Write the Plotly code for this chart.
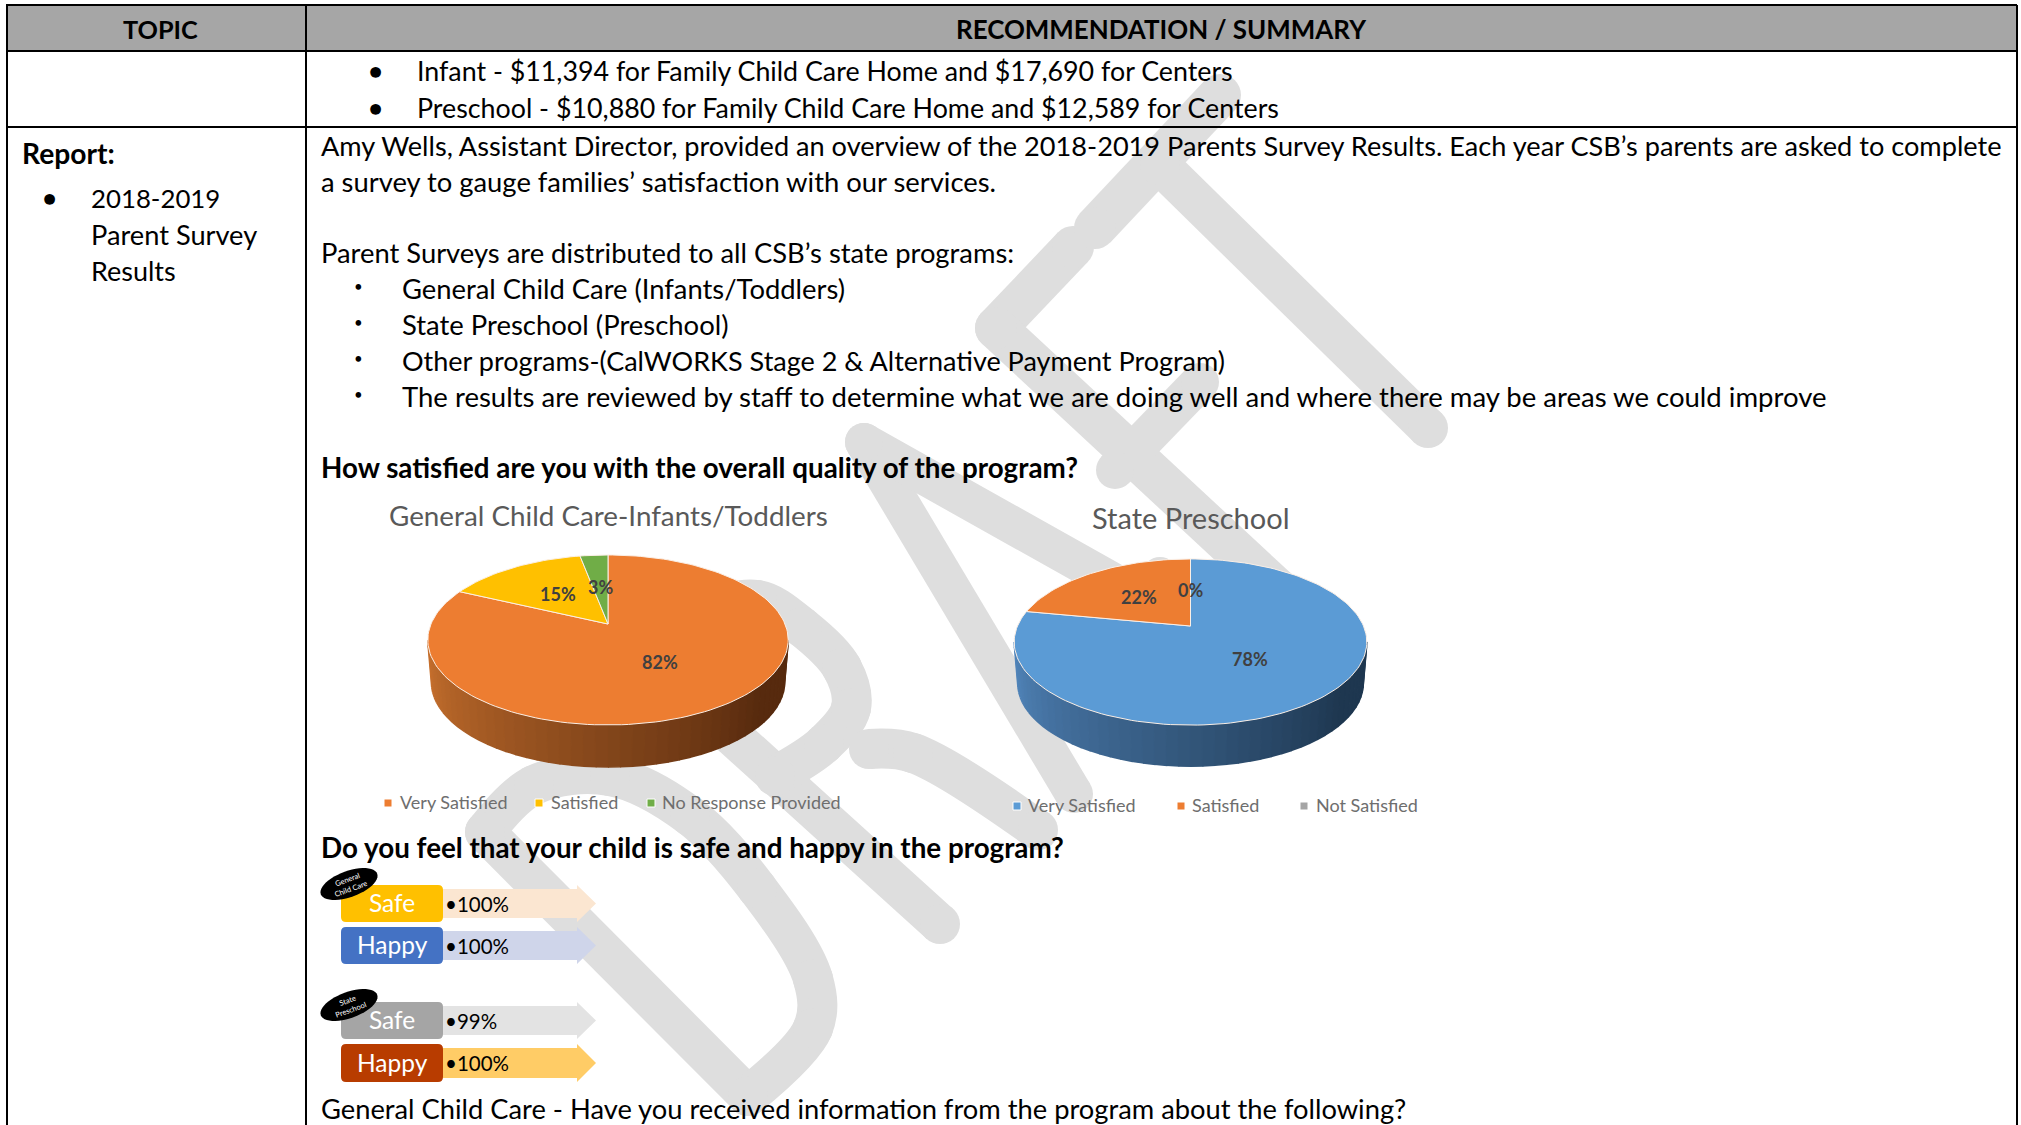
import math
import plotly.graph_objects as go

# ---------- data ----------
pie1_title = "General Child Care-Infants/Toddlers"
pie1_labels = ["Very Satisfied", "Satisfied", "No Response Provided"]
pie1_values = [82, 15, 3]
pie1_colors = ["#ED7D31", "#FFC000", "#70AD47"]

pie2_title = "State Preschool"
pie2_labels = ["Very Satisfied", "Satisfied", "Not Satisfied"]
pie2_values = [78, 22, 0]
pie2_colors = ["#5B9BD5", "#ED7D31", "#A5A5A5"]

metric_labels = ["Safe", "Happy", "Safe", "Happy"]
metric_values = ["•100%", "•100%", "•99%", "•100%"]
metric_box_colors = ["#FFC000", "#4472C4", "#A5A5A5", "#B83C00"]
metric_arrow_colors = ["#FBE6D1", "#CFD5EA", "#E3E3E3", "#FFCC66"]

FONT = "Lato"
BODY = 26.6

fig = go.Figure()
shapes = []
notes = []


def text(x, y, s, size=BODY, color="#000000", bold=False, anchor="left", angle=0):
    notes.append(dict(x=x, y=y - 1, text=s, showarrow=False, xanchor=anchor, yanchor="middle",
                      textangle=angle, xref="x", yref="y",
                      font=dict(family=FONT, size=size, color=color, weight=700 if bold else 400)))


# ---------- watermark strokes ----------
WM = "#DEDEDE"


def stroke(pts, w=40, smooth=False):
    fig.add_trace(go.Scatter(
        x=[p[0] for p in pts], y=[p[1] for p in pts], mode="lines+markers",
        line=dict(color=WM, width=w, shape="spline" if smooth else "linear"),
        marker=dict(color=WM, size=w, line=dict(width=0)),
        hoverinfo="skip", showlegend=False))


# D
stroke([(485, 832), (748, 1096)])
stroke([(485, 832), (534, 785), (610, 776), (690, 816), (757, 888), (813, 979), (813, 1028), (748, 1096)], smooth=True)
# R
stroke([(665, 675), (940, 924)])
stroke([(665, 675), (705, 615), (757, 600), (802, 627), (842, 668), (851, 708), (824, 744), (775, 776)], smooth=True)
stroke([(869, 749), (913, 753), (1038, 830)], smooth=True)
# A
stroke([(864, 442), (1074, 794)], 38)
stroke([(864, 442), (1240, 653)], 38)
stroke([(1015, 695), (1160, 575)], 36)
# F
stroke([(996, 328), (1073, 247)], 42)
stroke([(996, 328), (1278, 590)], 42)
stroke([(1115, 470), (1200, 382)], 38)
# T
stroke([(1095, 228), (1220, 95)], 42)
stroke([(1160, 165), (1428, 428)], 40)


# ---------- pseudo-3D pies, drawn from the values ----------
def shade(c1, c2, t):
    a = [int(c1[i:i + 2], 16) for i in (1, 3, 5)]
    b = [int(c2[i:i + 2], 16) for i in (1, 3, 5)]
    return "#%02x%02x%02x" % tuple(round(a[i] + (b[i] - a[i]) * t) for i in range(3))


def pie(title, title_y, title_size, labels, values, colors, cx, cy, R, k, d, depth, side_l, side_r, legend_x, legend_text_x, legend_y):
    def proj(theta, r=1.0):
        den = 1 + d * r * math.cos(theta)
        return cx + R * r * math.sin(theta) / den, cy - k * r * math.cos(theta) / den

    # side wall (front half of the rim, extruded), horizontal shading bands
    tmin = min(range(720), key=lambda i: proj(i * math.pi / 360)[0]) * math.pi / 360
    tmax = max(range(720), key=lambda i: proj(i * math.pi / 360)[0]) * math.pi / 360
    nb = 48
    for i in range(nb):
        a0 = tmin - (tmin - tmax) * i / nb
        a1 = tmin - (tmin - tmax) * (i + 1) / nb
        xs, ys = [], []
        for j in range(5):
            x, y = proj(a0 + (a1 - a0) * j / 4)
            xs.append(x); ys.append(y)
        for j in range(4, -1, -1):
            x, y = proj(a0 + (a1 - a0) * j / 4)
            xs.append(cx + (x - cx) * 0.98); ys.append(y + depth)
        col = shade(side_l, side_r, min(1, (i / nb) * 1.25))
        fig.add_trace(go.Scatter(x=xs, y=ys, mode="lines", fill="toself", fillcolor=col,
                                 line=dict(color=col, width=1.6), hoverinfo="skip", showlegend=False))

    # top slices, clockwise from 12 o'clock
    total = sum(values)
    acc = 0
    for lab, v, col in zip(labels, values, colors):
        a0 = acc / total * 2 * math.pi
        a1 = (acc + v) / total * 2 * math.pi
        acc += v
        if v == 0:
            mid = a0
        else:
            n = max(2, int(v * 2))
            pts = [proj(a0 + (a1 - a0) * j / n) for j in range(n + 1)]
            xs = [cx] + [p[0] for p in pts] + [cx]
            ys = [cy] + [p[1] for p in pts] + [cy]
            fig.add_trace(go.Scatter(x=xs, y=ys, mode="lines", fill="toself", fillcolor=col, name=lab,
                                     line=dict(color="#FBEFE6", width=1), hoverinfo="skip", showlegend=False))
            mid = (a0 + a1) / 2
        lx, ly = proj(mid, 0.5)
        text(lx, ly + 1, f"{v}%", 18, "#404040", True, "center")

    text(cx, title_y, title, title_size, "#595959", False, "center")
    fig.add_trace(go.Scatter(x=legend_x, y=[legend_y] * 3, mode="markers",
                             marker=dict(symbol="square", size=8, color=colors, line=dict(width=1, color="#FFFFFF")),
                             hoverinfo="skip", showlegend=False))
    for lab, tx in zip(labels, legend_text_x):
        text(tx, legend_y, lab, 18, "#6E6E6E")


pie(pie1_title, 516, 27.8, pie1_labels, pie1_values, pie1_colors, 608, 624, 177, 82, 0.188, 42,
    "#C8712E", "#572A0E", [388, 539, 651], [398, 549, 660], 803)
pie(pie2_title, 518, 29, pie2_labels, pie2_values, pie2_colors, 1190.5, 626, 173, 80, 0.193, 41,
    "#5286BC", "#1E3750", [1017, 1181, 1304], [1026, 1190, 1314], 806)


# ---------- table ----------
def rect(x0, y0, x1, y1, fill, line=None, w=0):
    shapes.append(dict(type="rect", xref="x", yref="y", x0=x0, y0=y0, x1=x1, y1=y1, layer="above",
                       fillcolor=fill, line=dict(color=line or fill, width=w)))


def hv(x0, y0, x1, y1, w=2):
    shapes.append(dict(type="line", xref="x", yref="y", x0=x0, y0=y0, x1=x1, y1=y1, layer="above",
                       line=dict(color="#000000", width=w)))


rect(7, 5, 2017, 51, "#A6A6A6")
hv(6, 5, 2017, 5)
hv(6, 51, 2017, 51)
hv(6, 127, 2017, 127)
hv(7, 5, 7, 1125)
hv(306, 5, 306, 1125)
hv(2017, 5, 2017, 1125)

text(160, 30, "TOPIC", BODY * 0.95, bold=True, anchor="center")
text(1161, 30, "RECOMMENDATION / SUMMARY", BODY * 0.975, bold=True, anchor="center")

for y, s in [(72, "Infant - $11,394 for Family Child Care Home and $17,690 for Centers"),
             (109, "Preschool - $10,880 for Family Child Care Home and $12,589 for Centers")]:
    text(375, y - 1, "●", 22, anchor="center")
    text(415, y, s, BODY * 1.008)

text(20, 154, "Report:", BODY * 1.06, bold=True)
text(49, 198, "●", 22, anchor="center")
text(89, 199, "2018-2019", BODY * 0.97)
text(89, 235, "Parent Survey", BODY * 1.024)
text(89, 271, "Results", BODY * 1.015)

text(319, 146, "Amy Wells, Assistant Director, provided an overview of the 2018-2019 Parents Survey Results. Each year CSB’s parents are asked to complete", BODY * 1.021)
text(319, 182, "a survey to gauge families’ satisfaction with our services.", BODY * 1.03)
text(319, 253, "Parent Surveys are distributed to all CSB’s state programs:", BODY * 1.029)
for y, s, f in [(289, "General Child Care (Infants/Toddlers)", 1.03),
                (325, "State Preschool (Preschool)", 1.032),
                (361, "Other programs-(CalWORKS Stage 2 & Alternative Payment Program)", 1.016),
                (397, "The results are reviewed by staff to determine what we are doing well and where there may be areas we could improve", 1.035)]:
    text(358, y - 2, "•", 15, anchor="center")
    text(400, y, s, BODY * f)
text(319, 468, "How satisfied are you with the overall quality of the program?", BODY * 1.044, bold=True)
text(319, 848, "Do you feel that your child is safe and happy in the program?", BODY * 1.045, bold=True)
text(319, 1109, "General Child Care - Have you received information from the program about the following?", BODY * 1.027)

# ---------- safe / happy blocks ----------
rows_y = [(885, 922), (927, 964), (1002, 1039), (1044, 1082)]
for (y0, y1), lab, val, bc, ac in zip(rows_y, metric_labels, metric_values, metric_box_colors, metric_arrow_colors):
    ym = (y0 + y1) / 2
    shapes.append(dict(type="path", xref="x", yref="y", layer="above", fillcolor=ac, line=dict(width=0),
                       path=f"M443,{y0 + 4} L577,{y0 + 4} L577,{y0} L596,{ym} L577,{y1} L577,{y1 - 4} L443,{y1 - 4} Z"))
    r = 5
    shapes.append(dict(type="path", xref="x", yref="y", layer="above", fillcolor=bc, line=dict(width=0),
                       path=f"M{341 + r},{y0} L{443 - r},{y0} Q443,{y0} 443,{y0 + r} L443,{y1 - r} Q443,{y1} {443 - r},{y1} "
                            f"L{341 + r},{y1} Q341,{y1} 341,{y1 - r} L341,{y0 + r} Q341,{y0} {341 + r},{y0} Z"))
    text(392, ym, lab, 24.5, "#FFFFFF", anchor="center")
    text(443, ym + 1, val, 20.5, "#000000")


def tag(cx, cy, l1, l2):
    rx, ry, rot = 30, 13, math.radians(-20)
    pts = []
    for i in range(49):
        t = i / 48 * 2 * math.pi
        ex, ey = rx * math.cos(t), ry * math.sin(t)
        pts.append((cx + ex * math.cos(rot) - ey * math.sin(rot), cy + ex * math.sin(rot) + ey * math.cos(rot)))
    path = "M" + " L".join(f"{x:.1f},{y:.1f}" for x, y in pts) + " Z"
    shapes.append(dict(type="path", xref="x", yref="y", layer="above", fillcolor="#000000", line=dict(width=0), path=path))
    notes.append(dict(x=cx, y=cy, text=f"{l1}<br>{l2}", showarrow=False, textangle=-20, xanchor="center", yanchor="middle",
                      xref="x", yref="y", align="center",
                      font=dict(family=FONT, size=7.5, color="#FFFFFF")))


tag(349, 884, "General", "Child Care")
tag(349, 1005, "State", "Preschool")

fig.update_layout(
    width=2021, height=1125, margin=dict(l=0, r=0, t=0, b=0),
    paper_bgcolor="#FFFFFF", plot_bgcolor="#FFFFFF", showlegend=False,
    xaxis=dict(range=[0, 2021], visible=False, fixedrange=True),
    yaxis=dict(range=[1125, 0], visible=False, fixedrange=True),
    shapes=shapes, annotations=notes,
)
fig.write_html("out.html", config={"displayModeBar": False},
               post_script="document.body.style.margin='0';document.body.style.overflow='hidden';")
